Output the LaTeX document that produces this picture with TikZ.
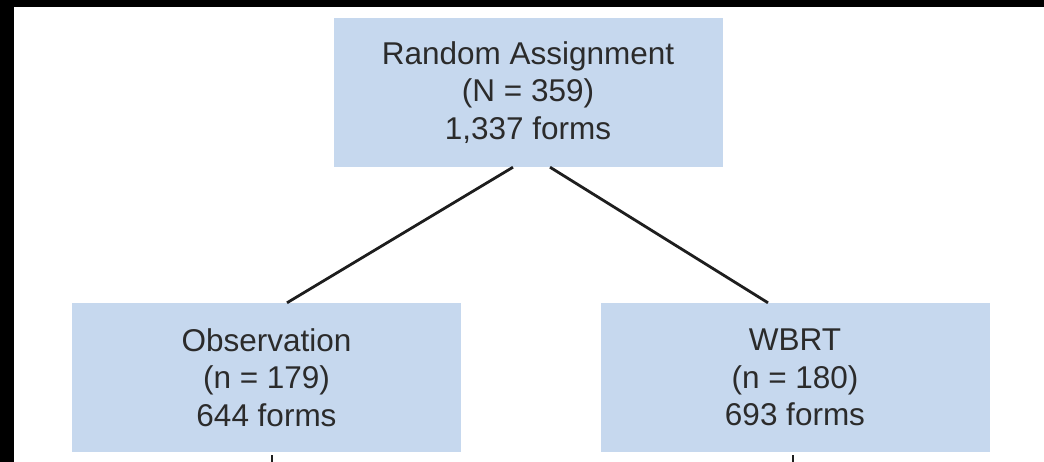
\documentclass[tikz,border=0pt]{standalone}
\usepackage{fontspec}
\setmainfont{Liberation Sans}
\usetikzlibrary{calc}
\definecolor{boxfill}{HTML}{C6D8EE}
\definecolor{txt}{HTML}{2B2B2B}
\definecolor{ln}{HTML}{1E1E1E}
\begin{document}
\begin{tikzpicture}[x=1pt,y=-1pt,
  box/.style={rectangle, fill=boxfill, draw=none, minimum width=389pt, minimum height=149pt,
    inner sep=0pt, align=center, text=txt, font=\fontsize{31.5}{37.5}\selectfont},
  conn/.style={draw=ln, line width=2.8pt}]
\useasboundingbox (0,0) rectangle (1044,462);
\fill[white] (0,0) rectangle (1044,462);
\fill[black] (0,0) rectangle (1044,7);
\fill[black] (0,0) rectangle (14,462);
\node[box] (top) at (528,92.5) {Random Assignment\\(N = 359)\\1,337 forms};
\node[box] (obs) at (266.5,377.5) {Observation\\(n = 179)\\644 forms};
\node[box] (wbrt) at (795,377.5) {WBRT\\(n = 180)\\693 forms};
\coordinate (obsend) at (272,463);
\coordinate (wbrtend) at (793,463);
\draw[conn] ($(top.south)+(-15,0)$) -- ($(obs.north)+(20.5,0)$);
\draw[conn] ($(top.south)+(22,0)$) -- ($(wbrt.north)+(-27,0)$);
\draw[conn] ($(obs.south)+(5.5,3)$) -- (obsend);
\draw[conn] ($(wbrt.south)+(-2,3)$) -- (wbrtend);
\end{tikzpicture}
\end{document}
